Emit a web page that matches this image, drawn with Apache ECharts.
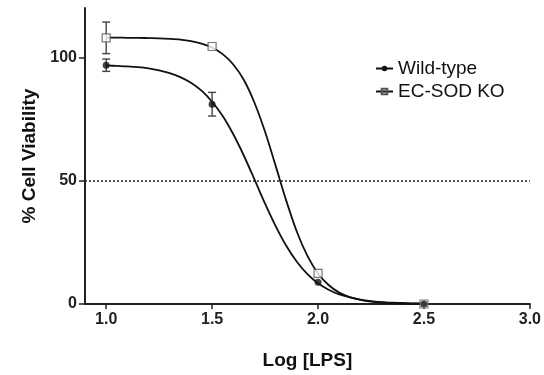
<!DOCTYPE html>
<html>
<head>
<meta charset="utf-8">
<script src="https://cdn.jsdelivr.net/npm/echarts@6/dist/echarts.min.js"></script>
<style>
html,body{margin:0;padding:0;background:#fff;}
#chart{width:544px;height:375px;}
</style>
</head>
<body>
<div id="chart"></div>
<script>
// Measured points
const doseX = [1.0, 1.5, 2.0, 2.5];
const wtMean = [96.8, 81.0, 8.8, 0];
const wtErr = [2.5, 4.8, 0, 0];
const koMean = [107.9, 104.4, 12.4, 0];
const koErr = [6.4, 0, 0, 0];

// Fitted curves
const curveX = [1.0, 1.05, 1.1, 1.15, 1.2, 1.25, 1.3, 1.35, 1.4, 1.45, 1.5, 1.55, 1.6, 1.65, 1.7, 1.75,
  1.8, 1.85, 1.9, 1.95, 2.0, 2.05, 2.1, 2.15, 2.2, 2.25, 2.3, 2.35, 2.4, 2.45, 2.5];
const wtCurve = [96.7, 96.5, 96.3, 96.0, 95.5, 94.7, 93.6, 92.0, 89.7, 86.5, 82.0, 76.2, 68.8, 60.1, 50.5, 40.7,
  31.6, 23.6, 17.1, 12.1, 8.4, 5.8, 3.9, 2.7, 1.8, 1.2, 0.8, 0.5, 0.4, 0.25, 0.2];
const koCurve = [108.0, 108.0, 107.9, 107.9, 107.8, 107.7, 107.5, 107.2, 106.6, 105.6, 104.0, 101.3, 97.1, 90.8, 81.6, 69.8,
  56.0, 41.9, 29.3, 19.5, 12.4, 7.7, 4.6, 2.8, 1.7, 1.0, 0.6, 0.35, 0.2, 0.12, 0.1];

const xTicks = [1.0, 1.5, 2.0, 2.5, 3.0];
const yTicks = [0, 50, 100];
const refLine = 50;

const FONT = "'Liberation Sans', Arial, Helvetica, sans-serif";
const zip = (a, b) => a.map((v, i) => [v, b[i]]);

function errData(xs, m, e) {
  return xs.map((x, i) => [x, m[i] - e[i], m[i] + e[i], e[i]]);
}
function errRender(params, api) {
  if (api.value(3) <= 0) return null;
  const x = api.value(0);
  const lo = api.coord([x, api.value(1)]);
  const hi = api.coord([x, api.value(2)]);
  const w = 4;
  const st = {stroke: '#444', lineWidth: 1.4};
  return {
    type: 'group',
    children: [
      {type: 'line', shape: {x1: lo[0], y1: lo[1], x2: hi[0], y2: hi[1]}, style: st},
      {type: 'line', shape: {x1: lo[0] - w, y1: lo[1], x2: lo[0] + w, y2: lo[1]}, style: st},
      {type: 'line', shape: {x1: hi[0] - w, y1: hi[1], x2: hi[0] + w, y2: hi[1]}, style: st}
    ]
  };
}

const chart = echarts.init(document.getElementById('chart'), null, {renderer: 'canvas'});
chart.setOption({
  animation: false,
  backgroundColor: '#fff',
  textStyle: {fontFamily: FONT},
  grid: {left: 85, right: 12, top: 8, bottom: 68, containLabel: false},
  legend: {
    orient: 'vertical',
    left: 370,
    top: 54,
    padding: 5,
    itemWidth: 17,
    itemHeight: 7,
    itemGap: 4,
    data: ['Wild-type', 'EC-SOD KO'],
    textStyle: {fontFamily: FONT, fontSize: 19, color: '#111'}
  },
  xAxis: {
    type: 'value',
    min: 0.9,
    max: 3.0,
    name: 'Log [LPS]',
    nameLocation: 'middle',
    nameGap: 47,
    nameTextStyle: {fontFamily: FONT, fontSize: 19, fontWeight: 'bold', color: '#111'},
    axisLine: {show: true, onZero: false, lineStyle: {color: '#222', width: 2}},
    axisTick: {show: true, length: 5, customValues: xTicks, lineStyle: {color: '#222', width: 1.5}},
    axisLabel: {
      customValues: xTicks, margin: 8,
      fontFamily: FONT, fontSize: 16, fontWeight: 'bold', color: '#222',
      formatter: v => Number(v).toFixed(1)
    },
    splitLine: {show: false}
  },
  yAxis: {
    type: 'value',
    min: 0,
    max: 120,
    name: '% Cell Viability',
    nameLocation: 'middle',
    nameGap: 38,
    nameRotate: 90,
    nameTextStyle: {fontFamily: FONT, fontSize: 19, fontWeight: 'bold', color: '#111'},
    axisLine: {show: true, onZero: false, lineStyle: {color: '#222', width: 2}},
    axisTick: {show: true, length: 6, customValues: yTicks, lineStyle: {color: '#222', width: 1.5}},
    axisLabel: {
      customValues: yTicks, margin: 8,
      fontFamily: FONT, fontSize: 16, fontWeight: 'bold', color: '#222'
    },
    splitLine: {show: false}
  },
  series: [
    {
      name: 'Wild-type', type: 'line', data: zip(curveX, wtCurve),
      smooth: 0.3, showSymbol: false, symbol: 'circle', symbolSize: 7,
      lineStyle: {color: '#111', width: 1.8}, itemStyle: {color: '#111'}, z: 3,
      markLine: {
        silent: true, symbol: 'none', label: {show: false},
        lineStyle: {color: '#222', type: [2, 2], width: 1.5},
        data: [{yAxis: refLine}]
      }
    },
    {
      name: 'EC-SOD KO', type: 'line', data: zip(curveX, koCurve),
      smooth: 0.3, showSymbol: false, symbol: 'rect', symbolSize: 7,
      lineStyle: {color: '#111', width: 1.8}, itemStyle: {color: 'rgba(255,255,255,0)', borderColor: '#555', borderWidth: 1.2}, z: 3
    },
    {
      name: 'wt-err', type: 'custom', renderItem: errRender,
      data: errData(doseX, wtMean, wtErr), z: 4
    },
    {
      name: 'ko-err', type: 'custom', renderItem: errRender,
      data: errData(doseX, koMean, koErr), z: 4
    },
    {
      name: 'ko-pts', type: 'scatter', data: zip(doseX, koMean),
      symbol: 'rect', symbolSize: 8, itemStyle: {color: '#fff', borderColor: '#555', borderWidth: 1.2}, z: 5
    },
    {
      name: 'wt-pts', type: 'scatter', data: zip(doseX, wtMean),
      symbol: 'circle', symbolSize: 7, itemStyle: {color: '#111'}, z: 6
    }
  ]
});
</script>
</body>
</html>
